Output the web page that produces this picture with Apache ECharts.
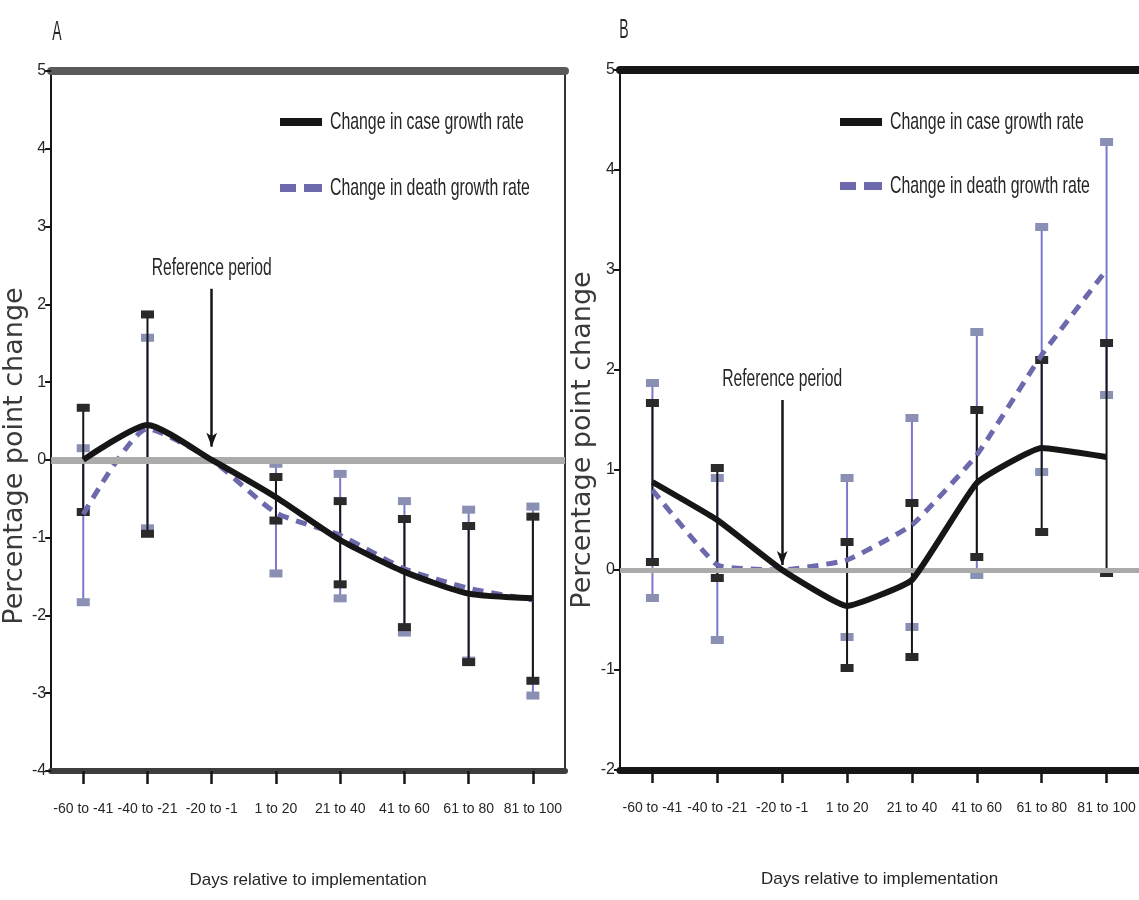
<!DOCTYPE html>
<html>
<head>
<meta charset="utf-8">
<script src="https://cdn.jsdelivr.net/npm/echarts@6/dist/echarts.min.js"></script>
<style>
html,body{margin:0;padding:0;background:#fff;}
#chart{width:1139px;height:900px;}
</style>
</head>
<body>
<div id="chart"></div>
<script>
// ---------- data ----------
const categories = ['-60 to -41','-40 to -21','-20 to -1','1 to 20','21 to 40','41 to 60','61 to 80','81 to 100'];
const seriesNames = ['Change in case growth rate','Change in death growth rate'];
const refCategory = '-20 to -1';
const refLabel = 'Reference period';
const panelLabels = ['A','B'];

// Panel A
const caseA    = [0, 0.45, 0, -0.48, -1.03, -1.44, -1.72, -1.78];
const caseLoA  = [-0.67, -0.95, null, -0.78, -1.6, -2.15, -2.6, -2.84];
const caseHiA  = [0.67, 1.87, null, -0.22, -0.53, -0.76, -0.85, -0.73];
const deathA   = [-0.7, 0.4, 0, -0.68, -0.97, -1.4, -1.65, -1.8];
const deathLoA = [-1.83, -0.88, null, -1.46, -1.78, -2.22, -2.58, -3.03];
const deathHiA = [0.15, 1.57, null, -0.05, -0.18, -0.53, -0.64, -0.6];
const yRangeA  = [-4, 5];
const refArrowA = [2.2, 0.17];

// Panel B
const caseB    = [0.88, 0.5, 0, -0.36, -0.1, 0.87, 1.22, 1.13];
const caseLoB  = [0.08, -0.08, null, -0.98, -0.87, 0.13, 0.38, -0.03];
const caseHiB  = [1.67, 1.02, null, 0.28, 0.67, 1.6, 2.1, 2.27];
const deathB   = [0.8, 0.05, 0, 0.1, 0.45, 1.15, 2.15, 3.0];
const deathLoB = [-0.28, -0.7, null, -0.67, -0.57, -0.05, 0.98, 1.75];
const deathHiB = [1.87, 0.92, null, 0.92, 1.52, 2.38, 3.43, 4.28];
const yRangeB  = [-2, 5];
const refArrowB = [1.7, 0.05];

// ---------- styling ----------
const FONT = "'Liberation Sans',Arial,sans-serif";
const TXT = '#262626';
const BLACK = '#161616';
const BLUE_LINE = '#6c69ad';
const BLUE_CI = '#7b78cc';
const BLUE_CAP = '#8a8fb4';

function ciData(lo, hi){
  const out = [];
  lo.forEach((v,i)=>{ if(v!=null && hi[i]!=null) out.push([i, v, hi[i]]); });
  return out;
}
function ciRender(color, capColor, lw){
  return function(params, api){
    const x = api.value(0);
    const a = api.coord([x, api.value(1)]);
    const b = api.coord([x, api.value(2)]);
    const cw = 13, ch = 8;
    return {type:'group', children:[
      {type:'line', shape:{x1:a[0],y1:a[1],x2:b[0],y2:b[1]}, style:{stroke:color, lineWidth:lw}},
      {type:'rect', shape:{x:a[0]-cw/2,y:a[1]-ch/2,width:cw,height:ch}, style:{fill:capColor}},
      {type:'rect', shape:{x:b[0]-cw/2,y:b[1]-ch/2,width:cw,height:ch}, style:{fill:capColor}}
    ]};
  };
}

function panelSeries(g, cs, cLo, cHi, ds, dLo, dHi, arrow, zeroW, smooth){
  return [
    {type:'line', xAxisIndex:g*2, yAxisIndex:g*2, data:[], silent:true, z:1,
     markLine:{silent:true, symbol:['none','none'], label:{show:false}, animation:false,
       lineStyle:{color:'#ababab', width:zeroW, type:'solid', cap:'butt'}, data:[{yAxis:0}]}},
    {type:'line', xAxisIndex:g*2, yAxisIndex:g*2, data:[], silent:true, z:6,
     markLine:{silent:true, symbol:['none','arrow'], symbolSize:[8,14], animation:false,
       lineStyle:{color:BLACK, width:2.5, type:'solid'}, label:{show:false},
       data:[[{coord:[refCategory, arrow[0]]},{coord:[refCategory, arrow[1]]}]]}},
    {name:seriesNames[1]+' CI', type:'custom', xAxisIndex:g*2, yAxisIndex:g*2, z:2,
     renderItem:ciRender(BLUE_CI, BLUE_CAP, 2), encode:{x:0,y:[1,2]}, data:ciData(dLo,dHi)},
    {name:seriesNames[0]+' CI', type:'custom', xAxisIndex:g*2, yAxisIndex:g*2, z:3,
     renderItem:ciRender(BLACK, '#2a2a2a', 2), encode:{x:0,y:[1,2]}, data:ciData(cLo,cHi)},
    {name:seriesNames[1], type:'line', xAxisIndex:g*2, yAxisIndex:g*2, z:4, data:ds,
     showSymbol:false, smooth:smooth, lineStyle:{color:BLUE_LINE, width:5, type:[11,8]}},
    {name:seriesNames[0], type:'line', xAxisIndex:g*2, yAxisIndex:g*2, z:5, data:cs,
     showSymbol:false, smooth:smooth, lineStyle:{color:BLACK, width:6}}
  ];
}

function xAxes(g, bottomColor, bottomW, topColor, topW){
  return [
    {gridIndex:g, type:'category', data:categories, boundaryGap:true, position:'bottom',
     axisLine:{show:true, onZero:false, lineStyle:{color:bottomColor, width:bottomW}},
     axisTick:{show:true, alignWithLabel:true, length:13, lineStyle:{color:BLACK, width:2.5}},
     axisLabel:{interval:0, color:TXT, fontFamily:FONT, fontSize:14, margin:31},
     splitLine:{show:false},
     name:'Days relative to implementation', nameLocation:'middle', nameGap:101,
     nameTextStyle:{color:TXT, fontFamily:FONT, fontSize:17}},
    {gridIndex:g, type:'category', data:categories, boundaryGap:true, position:'top',
     axisLine:{show:true, onZero:false, lineStyle:{color:topColor, width:topW}},
     axisTick:{show:false}, axisLabel:{show:false}, splitLine:{show:false}}
  ];
}
function yAxes(g, mm, shift, showRight){
  return [
    {gridIndex:g, type:'value', min:mm[0], max:mm[1], interval:1, position:'left',
     axisLine:{show:true, onZero:false, lineStyle:{color:BLACK, width:2}},
     axisTick:{show:true, length:6, lineStyle:{color:BLACK, width:2}},
     axisLabel:{color:TXT, fontFamily:FONT, fontSize:16, margin:5},
     splitLine:{show:false},
     name:'Percentage point change', nameLocation:'middle', nameGap:18,
     nameTextStyle:{color:'#3a3a3a', fontFamily:"'DejaVu Sans',sans-serif", fontSize:27, padding:[0, shift, 0, 0]}},
    {gridIndex:g, type:'value', min:mm[0], max:mm[1], interval:1, position:'right', show:showRight,
     axisLine:{show:true, onZero:false, lineStyle:{color:'#333', width:2}},
     axisTick:{show:false}, axisLabel:{show:false}, splitLine:{show:false}}
  ];
}

function legendGraphics(x, y1, y2){
  return [
    {type:'rect', x:x, y:y1-4, shape:{width:42, height:8}, style:{fill:BLACK}},
    {type:'text', x:x+50, y:y1, scaleX:0.66, style:{text:seriesNames[0], fill:TXT, font:"24px "+FONT, verticalAlign:'middle', align:'left'}},
    {type:'rect', x:x, y:y2-4, shape:{width:16, height:8}, style:{fill:BLUE_LINE}},
    {type:'rect', x:x+24, y:y2-4, shape:{width:18, height:8}, style:{fill:BLUE_LINE}},
    {type:'text', x:x+50, y:y2, scaleX:0.66, style:{text:seriesNames[1], fill:TXT, font:"24px "+FONT, verticalAlign:'middle', align:'left'}}
  ];
}

const chart = echarts.init(document.getElementById('chart'), null, {renderer:'canvas'});
chart.setOption({
  animation:false,
  backgroundColor:'#fff',
  grid:[
    {left:51, right:574, top:71, bottom:129},
    {left:620, right:0, top:70, bottom:130}
  ],
  xAxis:[].concat(xAxes(0,'#3d3d3d',6,'#5a5a5a',8), xAxes(1,BLACK,7,BLACK,8)),
  yAxis:[].concat(yAxes(0,yRangeA,70,true), yAxes(1,yRangeB,40,false)),
  series:[].concat(
    panelSeries(0, caseA, caseLoA, caseHiA, deathA, deathLoA, deathHiA, refArrowA, 7, 0.2),
    panelSeries(1, caseB, caseLoB, caseHiB, deathB, deathLoB, deathHiB, refArrowB, 5, 0.12)
  )
});

// text annotations placed through the chart's own coordinate conversion
const pA = chart.convertToPixel({gridIndex:0}, [refCategory, refArrowA[0]]);
const pB = chart.convertToPixel({gridIndex:1}, [refCategory, refArrowB[0]]);
chart.setOption({
  graphic:[].concat(
    legendGraphics(280, 122, 188),
    legendGraphics(840, 122, 186),
    [
      {type:'text', x:pA[0], y:pA[1]-20, scaleX:0.68, style:{text:refLabel, fill:TXT, font:"23px "+FONT, align:'center', verticalAlign:'middle'}},
      {type:'text', x:pB[0], y:pB[1]-20, scaleX:0.68, style:{text:refLabel, fill:TXT, font:"23px "+FONT, align:'center', verticalAlign:'middle'}},
      {type:'text', x:57, y:32, scaleX:0.5, style:{text:panelLabels[0], fill:TXT, font:"28px "+FONT, align:'center', verticalAlign:'middle'}},
      {type:'text', x:624, y:30, scaleX:0.5, style:{text:panelLabels[1], fill:TXT, font:"28px "+FONT, align:'center', verticalAlign:'middle'}}
    ]
  )
});
</script>
</body>
</html>
